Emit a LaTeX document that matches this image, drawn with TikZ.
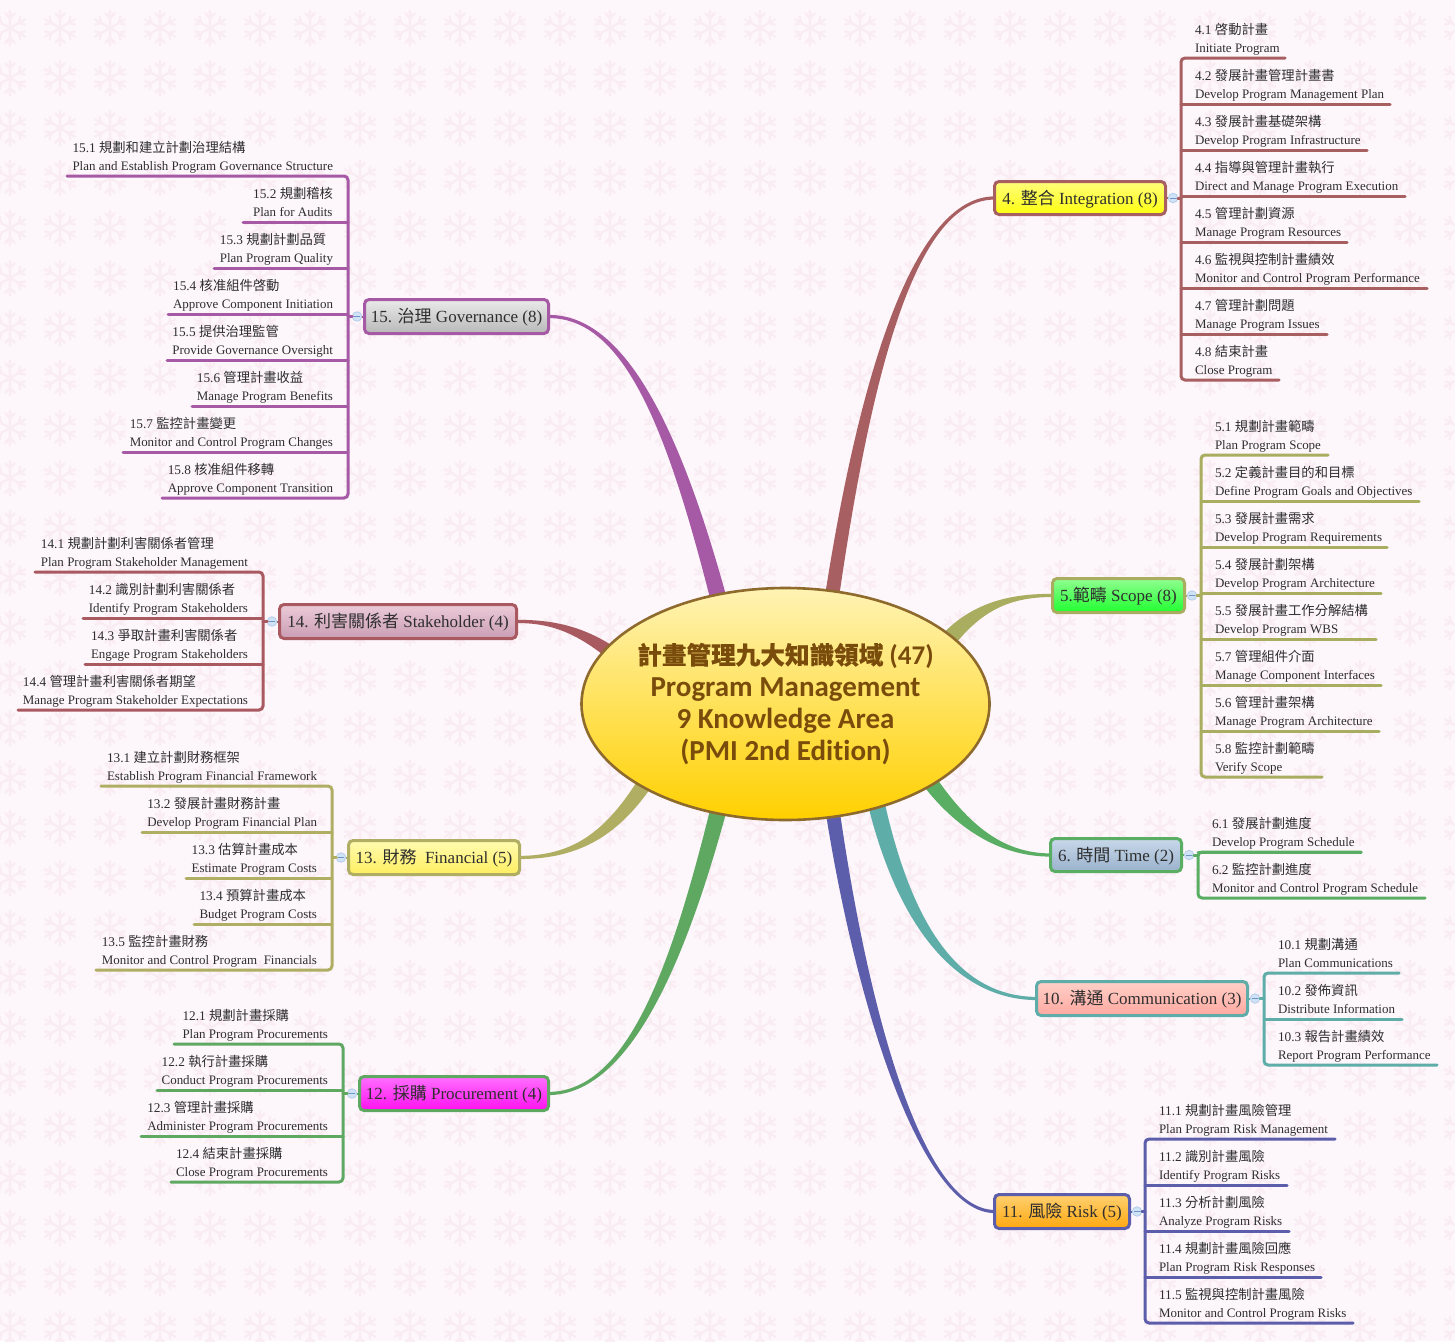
\documentclass[tikz,border=0pt]{standalone}
\usepackage{fontspec}
\usetikzlibrary{calc,shapes.geometric}
\setmainfont{Liberation Serif}
\newfontfamily\cjkfam{Noto Sans CJK TC}
\newfontfamily\cjkroot[FakeBold=0.5]{Noto Sans CJK TC}
\newfontfamily\rootlat[Ligatures=CommonOff]{Carlito}
\newcommand\zh[1]{{\cjkfam #1}}
\newcommand\one{\fontsize{13.3}{18}\selectfont}
\newcommand\two{\fontsize{12.95}{18}\selectfont}
\newcommand\lineone[1]{\raisebox{-1pt}[12.6pt][5.4pt]{\one\strut #1}}
\newcommand\hc[1]{\definecolor{#1}{HTML}{#1}}
\hc{FFFD7A}\hc{FFFF10}\hc{90FF90}\hc{20FF30}\hc{C8D8EA}\hc{9AB2CC}\hc{FFD0C8}\hc{FFA8A0}
\hc{FFD070}\hc{FFA810}\hc{FF70FF}\hc{FF10F0}\hc{FFFBB0}\hc{FFEE60}\hc{EBCBD8}\hc{C99DB4}
\hc{EAEAEA}\hc{B8B8B8}\hc{8E6A2C}\hc{FFF3B4}\hc{FFD000}\hc{7A4C0C}\hc{D0E2F6}\hc{B4CDEB}\hc{6F94C8}
\definecolor{bgc}{HTML}{FDF6FB}
\definecolor{flk}{HTML}{F9ECF3}
\definecolor{txt}{HTML}{2E2E2E}
\definecolor{cIV}{HTML}{A85F62}
\definecolor{cV}{HTML}{A9AD5F}
\definecolor{cVI}{HTML}{5AAE63}
\definecolor{cX}{HTML}{5FADA8}
\definecolor{cXI}{HTML}{5C5EAB}
\definecolor{cXII}{HTML}{5FA862}
\definecolor{cXIII}{HTML}{B0AE62}
\definecolor{cXIV}{HTML}{A95A60}
\definecolor{cXV}{HTML}{A65AA5}
\tikzset{
 flake/.style={draw=flk,line width=2.2pt},
 leaf/.style={inner sep=0pt,outer sep=0pt,align=left,text=txt},
 twig/.style={line width=3pt,line cap=round},
 parent/.style={rectangle,rounded corners=4.5pt,line width=3pt,inner sep=0pt,outer sep=0pt,text=txt,
   text height=16pt,text depth=4pt,font=\fontsize{17}{20}\selectfont},
 collapse/.style={circle,fill=D0E2F6,draw=B4CDEB,line width=.8pt,minimum size=9.5pt,inner sep=0pt,outer sep=0pt,
   path picture={\draw[6F94C8,line width=1pt] (-2.6pt,0pt) -- (2.6pt,0pt);}},
}
% name, bar x, y, end x, first line, second line
\newcommand\leafR[6]{%
 \pgfmathsetmacro\lfw{#4-#2}%
 \node[leaf,text width=\lfw pt,anchor=south west] (#1) at (#2,#3)
  {\hspace*{14pt}\mbox{\lineone{#5}}\\\hspace*{14pt}\mbox{\two\strut #6}};}
\newcommand\leafL[6]{%
 \pgfmathsetmacro\lfw{#2-#4}%
 \node[leaf,text width=\lfw pt,anchor=south east] (#1) at (#2,#3)
  {\hfill\vbox{\hbox{\lineone{#5}}\hbox{\two\strut #6}}\hspace*{15pt}};}
% colour, parent, first leaf, last leaf, all leaves
\newcommand\groupR[5]{%
 \node[collapse] (k#2) at ($(#2.east)+(7.5,0)$) {};
 \draw[#1,line width=2pt] (#2.east) -- (k#2.west);
 \foreach \n in {#5} \draw[twig,#1] (\n.south west) -- (\n.south east);
 \draw[twig,#1,rounded corners=4pt] (#3.south east) -- (#3.south west) -- (#4.south west) -- (#4.south east);
 \draw[twig,#1] (k#2.east) -- (k#2.east -| #3.south west);}
\newcommand\groupL[5]{%
 \node[collapse] (k#2) at ($(#2.west)+(-7.5,0)$) {};
 \draw[#1,line width=2pt] (#2.west) -- (k#2.east);
 \foreach \n in {#5} \draw[twig,#1] (\n.south west) -- (\n.south east);
 \draw[twig,#1,rounded corners=4pt] (#3.south west) -- (#3.south east) -- (#4.south east) -- (#4.south west);
 \draw[twig,#1] (k#2.west) -- (k#2.west -| #3.south east);}
% colour, parent anchor, root-side coordinate, c1x,c1y, c2x,c2y, wx,wy
\newcommand\branch[9]{%
 \fill[#1] ($(#2)+(0,-1.6)$) .. controls (#4,#5-1.6) and (#6+0.8*#8,#7+0.8*#9) .. ($(#3)+(#8,#9)$)
   -- ($(#3)+(-#8,-#9)$) .. controls (#6-0.8*#8,#7-0.8*#9) and (#4,#5+1.6) .. ($(#2)+(0,1.6)$) -- cycle;}
\begin{document}
\begin{tikzpicture}[x=1pt,y=-1pt]
\useasboundingbox (0,0) rectangle (1455,1341);
\fill[bgc] (0,0) rectangle (1455,1341);
\begin{scope}
\clip (0,0) rectangle (1455,1341);
\foreach \i in {0,...,29} \foreach \j in {0,...,26}
 \draw[flake,shift={(10+50*\i,28+50*\j)}]
  (0,-18)--(0,18) (15.6,-9)--(-15.6,9) (15.6,9)--(-15.6,-9)
  (-5,-15)--(0,-10)--(5,-15) (10.49,-11.83)--(8.66,-5)--(15.49,-3.17)
  (15.49,3.17)--(8.66,5)--(10.49,11.83) (5,15)--(0,10)--(-5,15)
  (-10.49,11.83)--(-8.66,5)--(-15.49,3.17) (-15.49,-3.17)--(-8.66,-5)--(-10.49,-11.83);
\end{scope}
% parents
\node[parent,draw=cIV,top color=FFFD7A,bottom color=FFFF10,minimum width=171,minimum height=33] (p4) at (1080,198) {4. \zh{整合} Integration (8)};
\node[parent,draw=cV,top color=90FF90,bottom color=20FF30,minimum width=132,minimum height=34] (p5) at (1118.5,595.5) {5.\zh{範疇} Scope (8)};
\node[parent,draw=cVI,top color=C8D8EA,bottom color=9AB2CC,minimum width=131,minimum height=33] (p6) at (1116,855) {6. \zh{時間} Time (2)};
\node[parent,draw=cX,top color=FFD0C8,bottom color=FFA8A0,minimum width=211,minimum height=34] (p10) at (1142,998.5) {10. \zh{溝通} Communication (3)};
\node[parent,draw=cXI,top color=FFD070,bottom color=FFA810,minimum width=135,minimum height=34] (p11) at (1062,1211.5) {11. \zh{風險} Risk (5)};
\node[parent,draw=cXII,top color=FF70FF,bottom color=FF10F0,minimum width=189,minimum height=34] (p12) at (454,1093.5) {12. \zh{採購} Procurement (4)};
\node[parent,draw=cXIII,top color=FFFBB0,bottom color=FFEE60,minimum width=171,minimum height=34] (p13) at (434,857.5) {13. \zh{財務}~ Financial (5)};
\node[parent,draw=cXIV,top color=EBCBD8,bottom color=C99DB4,minimum width=237,minimum height=34] (p14) at (398,621.5) {14. \zh{利害關係者} Stakeholder (4)};
\node[parent,draw=cXV,top color=EAEAEA,bottom color=B8B8B8,minimum width=184,minimum height=34] (p15) at (456.5,316.5) {15. \zh{治理} Governance (8)};
% branches
\coordinate (r4) at (830,610);
\coordinate (r5) at (943,646);
\coordinate (r6) at (925,775);
\coordinate (r10) at (875,798);
\coordinate (r11) at (831,800);
\coordinate (r12) at (721,800);
\coordinate (r13) at (650,775);
\coordinate (r14) at (618,658);
\coordinate (r15) at (722,612);
\branch{cIV}{p4.west}{r4}{920}{198}{868}{350}{-7}{-1.5}
\branch{cV}{p5.west}{r5}{1005}{595}{972}{610}{-6}{-6}
\branch{cVI}{p6.west}{r6}{1000}{855}{960}{825}{6}{-5}
\branch{cX}{p10.west}{r10}{960}{998}{905}{930}{8}{-3}
\branch{cXI}{p11.west}{r11}{920}{1211}{860}{1000}{7}{-1.5}
\branch{cXII}{p12.east}{r12}{630}{1093}{680}{960}{-8}{-2}
\branch{cXIII}{p13.east}{r13}{570}{857}{610}{840}{-6}{-5}
\branch{cXIV}{p14.east}{r14}{555}{621}{585}{632}{4.2}{-5.5}
\branch{cXV}{p15.east}{r15}{625}{316}{675}{430}{8}{-2}
% root
\node[ellipse,draw=8E6A2C,line width=2.6pt,top color=FFF3B4,bottom color=FFD000,minimum width=408,minimum height=232,
  inner sep=0pt,outer sep=0pt,text=7A4C0C,font=\fontsize{29}{32}\selectfont\bfseries\rootlat] (root) at (785.5,704)
  {\smash{\makebox[0pt]{\raisebox{-8pt}{\begin{tabular}[c]{@{}c@{}}{\fontsize{24.6}{32}\selectfont\cjkroot 計畫管理九大知識領域}{\fontsize{27}{32}\selectfont\ (47)}\\Program Management\\9 Knowledge Area\\(PMI 2nd Edition)\end{tabular}}}}};
% group 4
\leafR{a1}{1181}{58}{1285}{4.1 \zh{啓動計畫}}{Initiate Program}
\leafR{a2}{1181}{104}{1390}{4.2 \zh{發展計畫管理計畫書}}{Develop Program Management Plan}
\leafR{a3}{1181}{150}{1367}{4.3 \zh{發展計畫基礎架構}}{Develop Program Infrastructure}
\leafR{a4}{1181}{196}{1405}{4.4 \zh{指導與管理計畫執行}}{Direct and Manage Program Execution}
\leafR{a5}{1181}{242}{1347}{4.5 \zh{管理計劃資源}}{Manage Program Resources}
\leafR{a6}{1181}{288}{1427}{4.6 \zh{監視與控制計畫績效}}{Monitor and Control Program Performance}
\leafR{a7}{1181}{334}{1327}{4.7 \zh{管理計劃問題}}{Manage Program Issues}
\leafR{a8}{1181}{380}{1279}{4.8 \zh{結束計畫}}{Close Program}
\groupR{cIV}{p4}{a1}{a8}{a2,a3,a4,a5,a6,a7}
% group 5
\leafR{b1}{1201}{455}{1328}{5.1 \zh{規劃計畫範疇}}{Plan Program Scope}
\leafR{b2}{1201}{501}{1419}{5.2 \zh{定義計畫目的和目標}}{Define Program Goals and Objectives}
\leafR{b3}{1201}{547}{1387}{5.3 \zh{發展計畫需求}}{Develop Program Requirements}
\leafR{b4}{1201}{593}{1381}{5.4 \zh{發展計劃架構}}{Develop Program Architecture}
\leafR{b5}{1201}{639}{1376}{5.5 \zh{發展計畫工作分解結構}}{Develop Program WBS}
\leafR{b6}{1201}{685}{1381}{5.7 \zh{管理組件介面}}{Manage Component Interfaces}
\leafR{b7}{1201}{731}{1379}{5.6 \zh{管理計畫架構}}{Manage Program Architecture}
\leafR{b8}{1201}{777}{1322}{5.8 \zh{監控計劃範疇}}{Verify Scope}
\groupR{cV}{p5}{b1}{b8}{b2,b3,b4,b5,b6,b7}
% group 6
\leafR{c1}{1198}{852}{1361}{6.1 \zh{發展計劃進度}}{Develop Program Schedule}
\leafR{c2}{1198}{898}{1425}{6.2 \zh{監控計劃進度}}{Monitor and Control Program Schedule}
\groupR{cVI}{p6}{c1}{c2}{c1}
% group 10
\leafR{d1}{1264}{973}{1399}{10.1 \zh{規劃溝通}}{Plan Communications}
\leafR{d2}{1264}{1019}{1402}{10.2 \zh{發佈資訊}}{Distribute Information}
\leafR{d3}{1264}{1065}{1437}{10.3 \zh{報告計畫績效}}{Report Program Performance}
\groupR{cX}{p10}{d1}{d3}{d2}
% group 11
\leafR{e1}{1145}{1139}{1335}{11.1 \zh{規劃計畫風險管理}}{Plan Program Risk Management}
\leafR{e2}{1145}{1185}{1287}{11.2 \zh{識別計畫風險}}{Identify Program Risks}
\leafR{e3}{1145}{1231}{1289}{11.3 \zh{分析計劃風險}}{Analyze Program Risks}
\leafR{e4}{1145}{1277}{1321}{11.4 \zh{規劃計畫風險回應}}{Plan Program Risk Responses}
\leafR{e5}{1145}{1323}{1353}{11.5 \zh{監視與控制計畫風險}}{Monitor and Control Program Risks}
\groupR{cXI}{p11}{e1}{e5}{e2,e3,e4}
% group 12
\leafL{f1}{343}{1044}{174}{12.1 \zh{規劃計畫採購}}{Plan Program Procurements}
\leafL{f2}{343}{1090}{157}{12.2 \zh{執行計畫採購}}{Conduct Program Procurements}
\leafL{f3}{343}{1136}{141}{12.3 \zh{管理計畫採購}}{Administer Program Procurements}
\leafL{f4}{343}{1182}{171}{12.4 \zh{結束計畫採購}}{Close Program Procurements}
\groupL{cXII}{p12}{f1}{f4}{f2,f3}
% group 13
\leafL{g1}{332}{786}{101}{13.1 \zh{建立計劃財務框架}}{Establish Program Financial Framework}
\leafL{g2}{332}{832}{142}{13.2 \zh{發展計畫財務計畫}}{Develop Program Financial Plan}
\leafL{g3}{332}{878}{186}{13.3 \zh{估算計畫成本}}{Estimate Program Costs}
\leafL{g4}{332}{924}{194}{13.4 \zh{預算計畫成本}}{Budget Program Costs}
\leafL{g5}{332}{970}{96}{13.5 \zh{監控計畫財務}}{Monitor and Control Program~ Financials}
\groupL{cXIII}{p13}{g1}{g5}{g2,g3,g4}
% group 14
\leafL{h1}{263}{572}{35}{14.1 \zh{規劃計劃利害關係者管理}}{Plan Program Stakeholder Management}
\leafL{h2}{263}{618}{83}{14.2 \zh{識別計劃利害關係者}}{Identify Program Stakeholders}
\leafL{h3}{263}{664}{85}{14.3 \zh{爭取計畫利害關係者}}{Engage Program Stakeholders}
\leafL{h4}{263}{710}{18}{14.4 \zh{管理計畫利害關係者期望}}{Manage Program Stakeholder Expectations}
\groupL{cXIV}{p14}{h1}{h4}{h2,h3}
% group 15
\leafL{i1}{348}{176}{67}{15.1 \zh{規劃和建立計劃治理結構}}{Plan and Establish Program Governance Structure}
\leafL{i2}{348}{222}{243}{15.2 \zh{規劃稽核}}{Plan for Audits}
\leafL{i3}{348}{268}{214}{15.3 \zh{規劃計劃品質}}{Plan Program Quality}
\leafL{i4}{348}{314}{168}{15.4 \zh{核准組件啓動}}{Approve Component Initiation}
\leafL{i5}{348}{360}{167}{15.5 \zh{提供治理監管}}{Provide Governance Oversight}
\leafL{i6}{348}{406}{192}{15.6 \zh{管理計畫收益}}{Manage Program Benefits}
\leafL{i7}{348}{452}{123}{15.7 \zh{監控計畫變更}}{Monitor and Control Program Changes}
\leafL{i8}{348}{498}{162}{15.8 \zh{核准組件移轉}}{Approve Component Transition}
\groupL{cXV}{p15}{i1}{i8}{i2,i3,i4,i5,i6,i7}
\end{tikzpicture}
\end{document}
